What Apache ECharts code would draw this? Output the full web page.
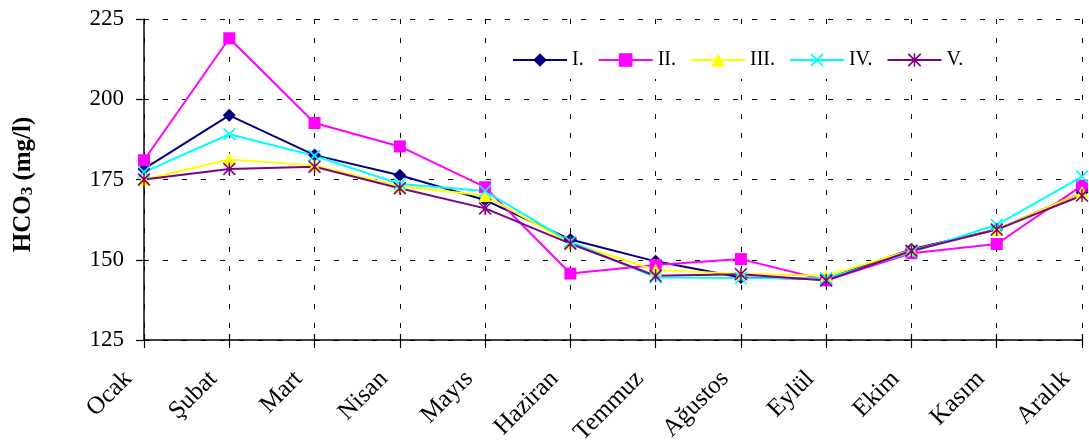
<!DOCTYPE html>
<html>
<head>
<meta charset="utf-8">
<script src="https://cdn.jsdelivr.net/npm/echarts@6/dist/echarts.min.js"></script>
<style>
  html, body { margin: 0; padding: 0; background: #fff; }
  #chart { width: 1089px; height: 444px; }
</style>
</head>
<body>
<div id="chart"></div>
<script>
// Monthly HCO3 concentration (mg/l) at five sampling stations
const months = ['Ocak', 'Şubat', 'Mart', 'Nisan', 'Mayıs', 'Haziran', 'Temmuz', 'Ağustos', 'Eylül', 'Ekim', 'Kasım', 'Aralık'];
const stationI   = [178.3, 195.0, 182.6, 176.3, 168.6, 156.3, 149.5, 144.5, 144.0, 153.3, 159.4, 171.0];
const stationII  = [181.0, 219.0, 192.6, 185.3, 172.6, 145.7, 148.4, 150.2, 143.6, 152.0, 154.9, 173.1];
const stationIII = [175.0, 181.2, 179.4, 172.9, 170.0, 155.2, 146.8, 145.6, 145.0, 153.0, 159.4, 171.0];
const stationIV  = [177.3, 189.1, 182.4, 173.6, 171.4, 155.6, 144.5, 144.3, 144.2, 152.3, 160.9, 175.9];
const stationV   = [175.0, 178.3, 179.0, 172.3, 166.0, 155.0, 145.0, 145.5, 143.5, 152.8, 159.4, 170.0];
const yTicks = { min: 125, max: 225, step: 25 };

const FONT = "'Liberation Serif', 'Times New Roman', serif";

// filled outlines for the cross and asterisk markers
const crossPath = 'path://M0.9,0 L10,9.1 L9.1,10 L0,0.9 Z M9.1,0 L10,0.9 L0.9,10 L0,9.1 Z';
const starPath = 'path://M0.9,0 L10,9.1 L9.1,10 L0,0.9 Z M9.1,0 L10,0.9 L0.9,10 L0,9.1 Z M4.45,0 L5.55,0 L5.55,10 L4.45,10 Z';

function line(name, data, color, symbol, size) {
  return {
    name, type: 'line', data,
    xAxisIndex: 0,
    symbol, symbolSize: size,
    showAllSymbol: true,
    lineStyle: { color, width: 2 },
    itemStyle: { color, borderWidth: 0 },
    emphasis: { disabled: true },
    animation: false
  };
}

const chart = echarts.init(document.getElementById('chart'), null, { renderer: 'canvas' });
chart.setOption({
  backgroundColor: '#fff',
  textStyle: { fontFamily: FONT },
  grid: { left: 144, right: 7, top: 19, bottom: 104, containLabel: false, outerBoundsMode: 'none' },
  legend: {
    left: 490, top: 33,
    padding: [17, 18, 9, 22],
    backgroundColor: '#fff',
    itemWidth: 54, itemHeight: 17, itemGap: 14,
    textStyle: { fontFamily: FONT, fontSize: 20, color: '#000' },
    data: ['I.', 'II.', 'III.', 'IV.', 'V.']
  },
  xAxis: [{
    type: 'category', data: months, boundaryGap: false, position: 'bottom',
    axisLine: { lineStyle: { color: '#000', width: 1.5 } },
    axisTick: { show: true, length: 8, lineStyle: { color: '#000', width: 1.2 } },
    axisLabel: {
      rotate: 45, margin: 51, verticalAlign: 'bottom', padding: [0, 0, 10, 0],
      fontFamily: FONT, fontSize: 25, color: '#000'
    },
    splitLine: { show: true, lineStyle: { color: '#000', type: [5, 14], width: 1 } }
  }, {
    type: 'category', data: months, boundaryGap: false, position: 'bottom',
    axisLine: { show: false },
    axisTick: { show: true, inside: true, length: 6, lineStyle: { color: '#000', width: 1.2 } },
    axisLabel: { show: false },
    splitLine: { show: false }
  }],
  yAxis: {
    type: 'value', min: yTicks.min, max: yTicks.max, interval: yTicks.step,
    name: '{a|HCO}{s|3}{a| (mg/l)}', nameLocation: 'middle', nameRotate: 90, nameGap: 108,
    nameTextStyle: {
      fontFamily: FONT, fontSize: 25, fontWeight: 'bold', color: '#000',
      padding: [0, 10, 0, 0],
      rich: {
        a: { fontFamily: FONT, fontSize: 25, fontWeight: 'bold', color: '#000' },
        s: { fontFamily: FONT, fontSize: 17, fontWeight: 'bold', color: '#000', verticalAlign: 'bottom' }
      }
    },
    axisLine: { show: true, lineStyle: { color: '#000', width: 1.5 } },
    axisTick: { show: true, length: 8, lineStyle: { color: '#000', width: 1.2 } },
    axisLabel: { margin: 20, fontFamily: FONT, fontSize: 23, color: '#000' },
    splitLine: { show: true, lineStyle: { color: '#000', type: [5, 14], width: 1 } }
  },
  series: [
    line('I.', stationI, '#000080', 'diamond', 13),
    line('II.', stationII, '#FF00FF', 'rect', 12),
    line('III.', stationIII, '#FFFF00', 'triangle', 13),
    line('IV.', stationIV, '#00FFFF', crossPath, 13),
    line('V.', stationV, '#800080', starPath, 13)
  ]
});
</script>
</body>
</html>
